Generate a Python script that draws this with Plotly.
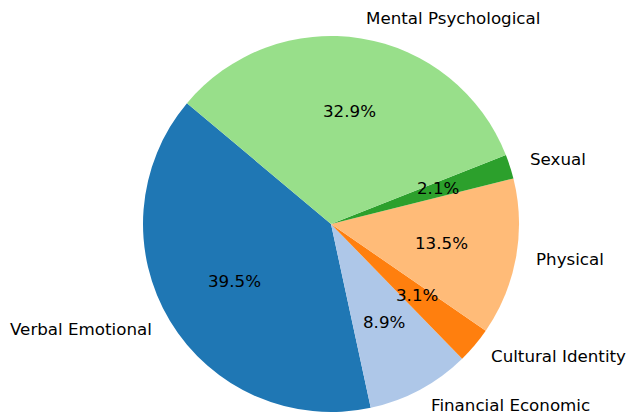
import math
import plotly.graph_objects as go

labels = ["Verbal Emotional", "Financial Economic", "Cultural Identity",
          "Physical", "Sexual", "Mental Psychological"]
values = [39.5, 8.9, 3.1, 13.5, 2.1, 32.9]
colors = ["#1f77b4", "#aec7e8", "#ff7f0e", "#ffbb78", "#2ca02c", "#98df8a"]
start_angle = 140  # degrees, counterclockwise from 3 o'clock

W, H = 626, 415
cx_px, cy_px, r_px = 331, 224, 188
total = sum(values)

# plotly's counterclockwise mode anchors the first slice's clockwise edge at `rotation`
first_span = 360 * values[0] / total
rotation = 90 - start_angle - first_span

fig = go.Figure(go.Pie(
    labels=labels, values=values, sort=False, direction="counterclockwise",
    rotation=rotation, textinfo="none", hoverinfo="label+percent",
    marker=dict(colors=colors, line=dict(width=0)),
    domain=dict(x=[(cx_px - r_px) / W, (cx_px + r_px) / W],
                y=[1 - (cy_px + r_px) / H, 1 - (cy_px - r_px) / H]),
    showlegend=False,
))

cum = 0.0
annotations = []
font = dict(family="DejaVu Sans", size=16.7, color="black")
for lab, v in zip(labels, values):
    frac = v / total
    theta = math.radians(start_angle + 360 * (cum + frac / 2))
    cum += frac
    c, s = math.cos(theta), math.sin(theta)
    lx = (cx_px + 1.1 * r_px * c) / W
    ly = 1 - (cy_px - 1.1 * r_px * s) / H
    annotations.append(dict(x=lx, y=ly, xref="paper", yref="paper", text=lab,
                            showarrow=False, font=font, yshift=1.5,
                            xanchor="left" if c > 0 else "right", yanchor="middle"))
    px = (cx_px + 0.6 * r_px * c) / W
    py = 1 - (cy_px - 0.6 * r_px * s) / H
    annotations.append(dict(x=px, y=py, xref="paper", yref="paper",
                            text=f"{100 * frac:.1f}%", showarrow=False, font=font,
                            yshift=1.5, xanchor="center", yanchor="middle"))

fig.update_layout(width=W, height=H, margin=dict(l=0, r=0, t=0, b=0),
                  paper_bgcolor="white", plot_bgcolor="white",
                  annotations=annotations)
fig.write_html("out.html", config={"displayModeBar": False},
               post_script="document.body.style.margin='0';")
